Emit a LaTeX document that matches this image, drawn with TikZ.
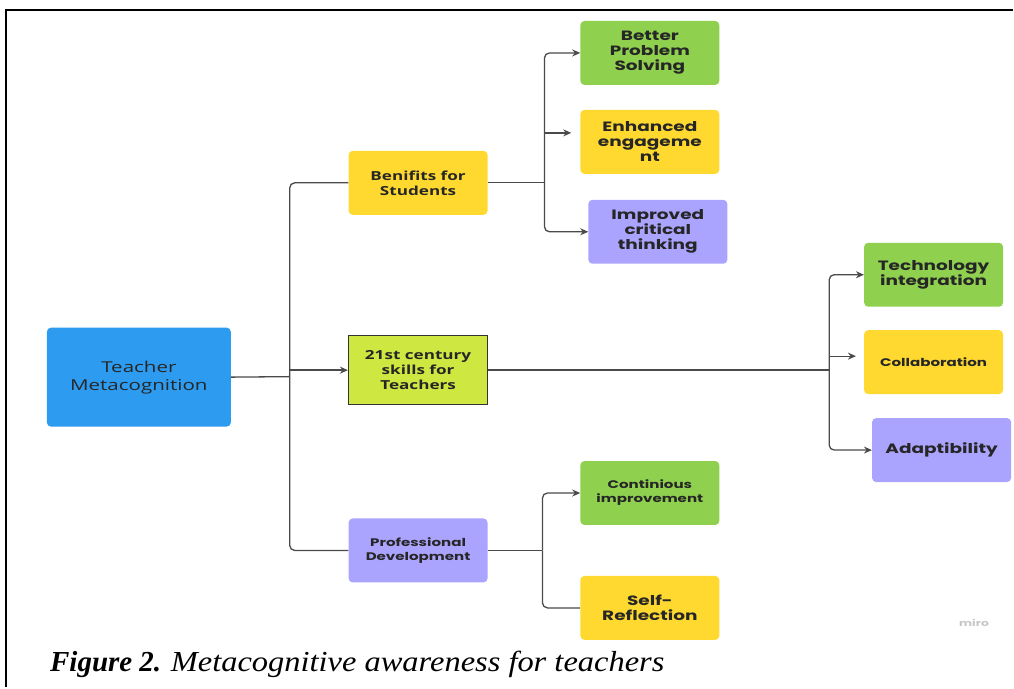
\documentclass[tikz,border=0pt]{standalone}
\usepackage{fontspec}
\setmainfont{Liberation Serif}
\newfontfamily\boxfont[FakeStretch=1.37]{Poppins}
\newfontfamily\opensans[FakeStretch=1.37]{Open Sans}
\newfontfamily\capfont[FakeStretch=1.12]{Liberation Serif}
\usepackage{xcolor}
\usetikzlibrary{positioning,arrows.meta}

\definecolor{miroblue}{HTML}{2D9BF0}
\definecolor{miroyellow}{HTML}{FFD930}
\definecolor{mirogreen}{HTML}{8FD14F}
\definecolor{miropurple}{HTML}{ABA4FF}
\definecolor{mirolime}{HTML}{CEE741}
\definecolor{linegray}{HTML}{4A4A4A}

\begin{document}
\begin{tikzpicture}[x=1pt,y=-1pt,
    card/.style={rectangle, rounded corners=4pt, minimum width=139pt, minimum height=64pt, align=center, text=black!85, inner sep=2pt},
    cardgreen/.style={card, fill=mirogreen, font=\boxfont\bfseries\fontsize{13.5}{15}\selectfont},
    cardyellow/.style={card, fill=miroyellow, font=\boxfont\bfseries\fontsize{13.5}{15}\selectfont},
    cardpurple/.style={card, fill=miropurple, font=\boxfont\bfseries\fontsize{13.5}{15}\selectfont},
    small/.style={font=\boxfont\bfseries\fontsize{11}{14}\selectfont},
    link/.style={draw=linegray, line width=1.3pt},
    arr/.style={link, -{Stealth[length=8pt,width=7pt]}}
]
% canvas and frame
\path[fill=white] (0,0) rectangle (1014,688);
\draw[line width=2pt] (1014,10) -- (6,10) -- (6,688);

% root
\node[rectangle, rounded corners=4pt, fill=miroblue, minimum width=184pt, minimum height=99pt, align=center,
      text=black!85, font=\opensans\fontsize{15}{18}\selectfont] (teacher) at (139,377.5) {Teacher\\Metacognition};

% level one
\node[card, fill=miroyellow, font=\opensans\bfseries\fontsize{12.5}{15}\selectfont] (benefits) at (418.5,183) {Benifits for\\Students};
\node[card, rounded corners=0pt, fill=mirolime, draw=black!80, line width=1.5pt, minimum height=69pt,
      font=\opensans\bfseries\fontsize{12.5}{15}\selectfont] (skills) at (418.5,370.5) {21st century\\skills for\\Teachers};
\node[cardpurple, small] (prof) at (418.5,551) {Professional\\Development};

% benefits for students
\node[cardgreen] (better) at (650.5,53) {Better\\Problem\\Solving};
\node[cardyellow] (enhanced) at (650.5,142) {Enhanced\\engageme\\nt};
\node[cardpurple] (critical) at (658.5,232) {Improved\\critical\\thinking};

% 21st century skills
\node[cardgreen] (tech) at (934.5,275) {Technology\\integration};
\node[cardyellow, small] (collab) at (934.5,362.5) {Collaboration};
\node[cardpurple] (adapt) at (942.5,450.5) {Adaptibility};

% professional development
\node[cardgreen, small] (contin) at (650.5,493.5) {Continious\\improvement};
\node[cardyellow] (selfref) at (650.5,608.5) {Self-\\Reflection};

% junctions
\coordinate (trunk) at (290,377);
\coordinate (bj) at (545,183);
\coordinate (sj) at (830,370.5);
\coordinate (pj) at (543,551);
\coordinate (enhin) at ([yshift=9pt]enhanced.west);
\coordinate (collin) at ([yshift=6pt]collab.west);

% connectors from root
\draw[link] (teacher.east) -- (trunk);
\draw[link, rounded corners=5pt] (benefits.west) -| (trunk) |- (prof.west);
\draw[arr] (trunk |- skills.west) -- (skills.west);

% connectors from benefits
\draw[link] (benefits.east) -- (bj);
\draw[arr, rounded corners=5pt] (bj) |- (better.west);
\draw[arr, rounded corners=5pt] (bj) |- (critical.west);
\draw[arr, shorten >=9pt] (bj |- enhin) -- (enhin);

% connectors from skills
\draw[link] (skills.east) -- (sj);
\draw[arr, rounded corners=5pt] (sj) |- (tech.west);
\draw[arr, rounded corners=5pt] (sj) |- (adapt.west);
\draw[arr, shorten >=8pt] (sj |- collin) -- (collin);

% connectors from professional development
\draw[link] (prof.east) -- (pj);
\draw[arr, rounded corners=5pt] (pj) |- (contin.west);
\draw[link, rounded corners=5pt] (pj) |- (selfref.west);

% watermark
\node[text=black!22, font=\boxfont\bfseries\fontsize{9}{10}\selectfont] (miro) at (975,624) {miro};

% caption
\node[anchor=base west, font=\fontsize{29}{32}\selectfont, inner sep=0pt] (caption) at (50,672)
     {\textbf{\textit{Figure 2.}} {\capfont\itshape Metacognitive awareness for teachers}};
\end{tikzpicture}
\end{document}
